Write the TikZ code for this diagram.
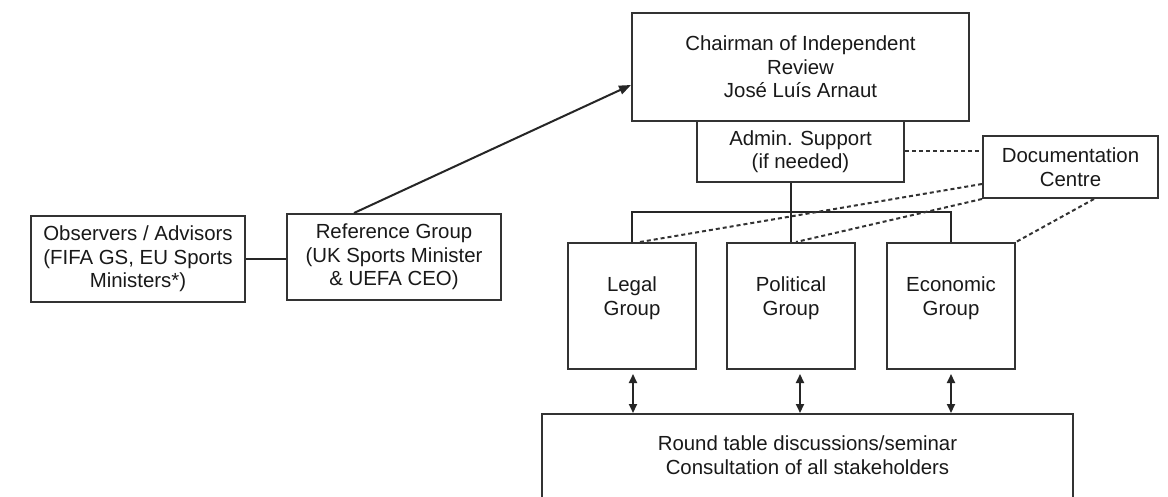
\documentclass[tikz,border=0pt]{standalone}
\usepackage{fontspec}
\setmainfont{Liberation Sans}
\usetikzlibrary{calc,arrows.meta}
\begin{document}
\begin{tikzpicture}[x=1pt,y=-1pt,
  every node/.style={font=\fontsize{20.4}{23.5}\selectfont, text=black!90},
  box/.style={draw=black!80, line width=2pt, rectangle, inner sep=0pt, align=center},
  txt/.style={inner sep=0pt, align=center},
  conn/.style={draw=black!85, line width=2pt},
  dconn/.style={draw=black!80, line width=2pt, dash pattern=on 4pt off 3pt},
  tip/.style={-{Triangle[length=12pt,width=9pt]}},
  dtip/.style={{Triangle[length=9pt,width=8pt]}-{Triangle[length=9pt,width=8pt]}}
]
\useasboundingbox (0,0) rectangle (1168,497);
\clip (0,0) rectangle (1168,497);
\fill[white] (0,0) rectangle (1168,497);

\node[box, minimum width=337, minimum height=108] (chair) at (800.5,67)
  {Chairman of Independent\\Review\\José Luís Arnaut};
\node[box, minimum width=207, minimum height=61] (admin) at (800.5,151.5)
  {Admin. Support\\(if needed)};
\node[box, minimum width=175, minimum height=62] (doc) at (1070.5,167)
  {Documentation\\Centre};
\node[box, minimum width=214, minimum height=86] (obs) at (138,259)
  {Observers / Advisors\\(FIFA GS, EU Sports\\Ministers*)};
\node[box, minimum width=214, minimum height=86] (ref) at (394,257)
  {Reference Group\\(UK Sports Minister\\\& UEFA CEO)};

\node[box, minimum width=128, minimum height=126] (legal) at (632,306) {};
\node[box, minimum width=128, minimum height=126] (pol) at (791,306) {};
\node[box, minimum width=128, minimum height=126] (eco) at (951,306) {};
\node[txt] (legalt) at (632,298) {Legal\\Group};
\node[txt] (polt) at (791,298) {Political\\Group};
\node[txt] (ecot) at (951,298) {Economic\\Group};

\node[box, minimum width=531, minimum height=130, anchor=north] (rt) at (807.5,413) {};
\node[txt] (rtt) at (807.5,455) {Round table discussions/seminar\\Consultation of all stakeholders};

% solid connectors
\draw[conn] (obs.east) -- (obs.east -| ref.west);
\draw[conn, tip] ($(ref.north west)+(68,0)$) -- ($(chair.west)+(0,18)$);
\draw[conn] (pol.north |- admin.south) -- (pol.north);
\draw[conn] (legal.north) -- ++(0,-30) -| (eco.north);

% dashed connectors
\draw[dconn] (admin.east) -- (admin.east -| doc.west);
\draw[dconn] ($(doc.south west)+(0,-15)$) -- ($(legal.north)+(8,0)$);
\draw[dconn] (doc.south west) -- ($(pol.north)+(5,0)$);
\draw[dconn] ($(doc.south west)+(112,0)$) -- (eco.north east);

% double arrows
\draw[conn, dtip] ($(legal.south)+(1,4)$) -- ($(rt.north)+(-174.5,0)$);
\draw[conn, dtip] ($(pol.south)+(9,4)$) -- ($(rt.north)+(-7.5,0)$);
\draw[conn, dtip] ($(eco.south)+(0,4)$) -- ($(rt.north)+(143.5,0)$);
\end{tikzpicture}
\end{document}
